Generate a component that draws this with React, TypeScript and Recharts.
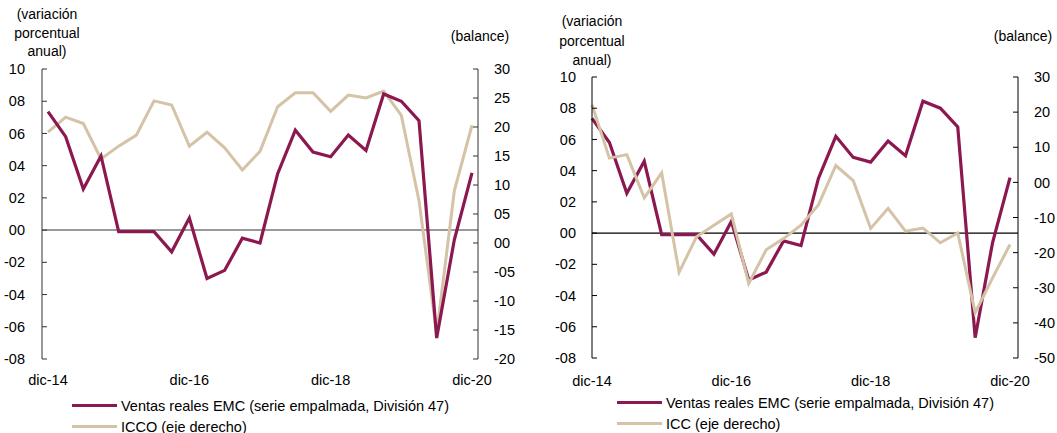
import { LineChart, Line, XAxis, YAxis, ReferenceLine } from 'recharts'

const MAROON = '#8C1850'
const TAN = '#D4C3A6'
const FONT = '"Liberation Sans", Arial, sans-serif'

const periods = [
  'dic-14', 'mar-15', 'jun-15', 'sep-15', 'dic-15', 'mar-16', 'jun-16', 'sep-16',
  'dic-16', 'mar-17', 'jun-17', 'sep-17', 'dic-17', 'mar-18', 'jun-18', 'sep-18',
  'dic-18', 'mar-19', 'jun-19', 'sep-19', 'dic-19', 'mar-20', 'jun-20', 'sep-20', 'dic-20',
]
const ventasEmc = [
  7.35, 5.8, 2.55, 4.6, -0.1, -0.1, -0.1, -1.35, 0.75, -3.0, -2.5, -0.5, -0.8,
  3.5, 6.2, 4.85, 4.55, 5.9, 4.95, 8.45, 8.0, 6.8, -6.7, -0.6, 3.55,
]
const icco = [
  19.1, 21.7, 20.6, 14.5, 16.7, 18.6, 24.5, 23.8, 16.7, 19.1, 16.4, 12.6, 15.8,
  23.5, 25.9, 25.9, 22.7, 25.5, 25.0, 26.2, 22.0, 7.3, -15.6, 9.0, 20.3,
]
const icc = [
  22.1, 6.9, 7.9, -4.4, 2.7, -25.6, -15.5, -12.2, -9.0, -28.8, -19.2, -16.0, -12.2,
  -6.4, 4.8, 0.5, -13.1, -7.4, -13.9, -13.0, -17.2, -14.4, -37.1, -27.2, -17.7,
]

const xTicks = ['dic-14', 'dic-16', 'dic-18', 'dic-20']
const pctTicks = [-8, -6, -4, -2, 0, 2, 4, 6, 8, 10]
const iccoTicks = [-20, -15, -10, -5, 0, 5, 10, 15, 20, 25, 30]
const iccTicks = [-50, -40, -30, -20, -10, 0, 10, 20, 30]

const serieName = 'Ventas reales EMC (serie empalmada, División 47)'

// Excel style labels: 8 -> "08", -5 -> "-05"
const fmt = (v: number) => (v < 0 ? '-' : '') + String(Math.abs(v)).padStart(2, '0')

const leftData = periods.map((p, i) => ({ period: p, ventas: ventasEmc[i], icco: icco[i] }))
const rightData = periods.map((p, i) => ({ period: p, ventas: ventasEmc[i], icc: icc[i] }))

const tickStyle = { fontSize: 14.5, fill: '#000', fontFamily: FONT }

function AxisTitle({ left, top, lines, lh }: { left: number; top: number; lines: string[]; lh: number }) {
  return (
    <div style={{ position: 'absolute', left: left - 60, top, width: 120, textAlign: 'center', fontSize: 14, lineHeight: `${lh}px`, fontFamily: FONT, color: '#000' }}>
      {lines.map((l) => <div key={l}>{l}</div>)}
    </div>
  )
}

function LegendBox({ left, top, items }: { left: number; top: number; items: Array<{ name: string; color: string }> }) {
  return (
    <div style={{ position: 'absolute', left, top, fontFamily: FONT, fontSize: 14.5, color: '#000' }}>
      {items.map((it) => (
        <div key={it.name} style={{ display: 'flex', alignItems: 'center', height: 21 }}>
          <span style={{ display: 'inline-block', width: 45, height: 3, background: it.color, marginRight: 4 }} />
          <span style={{ whiteSpace: 'nowrap' }}>{it.name}</span>
        </div>
      ))}
    </div>
  )
}

export default function App() {
  return (
    <div style={{ position: 'absolute', left: 0, top: 0, width: 1057, height: 433, background: '#fff', overflow: 'hidden' }}>
      <div style={{ position: 'absolute', left: 0, top: 0 }}>
        <LineChart width={530} height={433} data={leftData} margin={{ top: 69, right: 0, bottom: 44, left: 0 }}>
          <XAxis dataKey="period" ticks={xTicks} interval={0} axisLine={false} tickLine={false}
            tickSize={6} tickMargin={10} height={30} padding={{ left: 6, right: 6 }} tick={tickStyle} />
          <YAxis yAxisId="l" domain={[-8, 10]} ticks={pctTicks} interval={0} tickFormatter={fmt}
            width={42} tickSize={-5} tickMargin={22} stroke="#333" tick={tickStyle} />
          <YAxis yAxisId="r" orientation="right" domain={[-20, 30]} ticks={iccoTicks} interval={0} tickFormatter={fmt}
            width={52} tickSize={-5} tickMargin={21} stroke="#333" tick={tickStyle} />
          <ReferenceLine yAxisId="l" y={0} stroke="#777" strokeWidth={1.5} />
          <Line yAxisId="r" dataKey="icco" stroke={TAN} strokeWidth={3} dot={false} isAnimationActive={false} />
          <Line yAxisId="l" dataKey="ventas" stroke={MAROON} strokeWidth={3.2} dot={false} isAnimationActive={false} />
        </LineChart>
      </div>

      <div style={{ position: 'absolute', left: 530, top: 0 }}>
        <LineChart width={527} height={433} data={rightData} margin={{ top: 77, right: 0, bottom: 45, left: 0 }}>
          <XAxis dataKey="period" ticks={xTicks} interval={0} axisLine={false} tickLine={false}
            tickSize={6} tickMargin={12} height={30} padding={{ left: 0, right: 8 }} tick={tickStyle} />
          <YAxis yAxisId="l" domain={[-8, 10]} ticks={pctTicks} interval={0} tickFormatter={fmt}
            width={62} tickSize={-5} tickMargin={21} stroke="#000" tick={tickStyle} />
          <YAxis yAxisId="r" orientation="right" domain={[-50, 30]} ticks={iccTicks} interval={0} tickFormatter={fmt}
            width={39} tickSize={-5} tickMargin={21} stroke="#000" tick={tickStyle} />
          <ReferenceLine yAxisId="l" y={0} stroke="#000" strokeWidth={1.2} />
          <Line yAxisId="l" dataKey="ventas" stroke={MAROON} strokeWidth={3.2} dot={false} isAnimationActive={false} />
          <Line yAxisId="r" dataKey="icc" stroke={TAN} strokeWidth={3} dot={false} isAnimationActive={false} />
        </LineChart>
      </div>

      <AxisTitle left={47} top={5} lh={18.5} lines={['(variación', 'porcentual', 'anual)']} />
      <AxisTitle left={480} top={27} lh={18} lines={['(balance)']} />
      <AxisTitle left={592} top={12} lh={19.5} lines={['(variación', 'porcentual', 'anual)']} />
      <AxisTitle left={1023} top={27} lh={18} lines={['(balance)']} />

      <LegendBox left={72} top={395} items={[{ name: serieName, color: MAROON }, { name: 'ICCO (eje derecho)', color: TAN }]} />
      <LegendBox left={617} top={392} items={[{ name: serieName, color: MAROON }, { name: 'ICC (eje derecho)', color: TAN }]} />
    </div>
  )
}
